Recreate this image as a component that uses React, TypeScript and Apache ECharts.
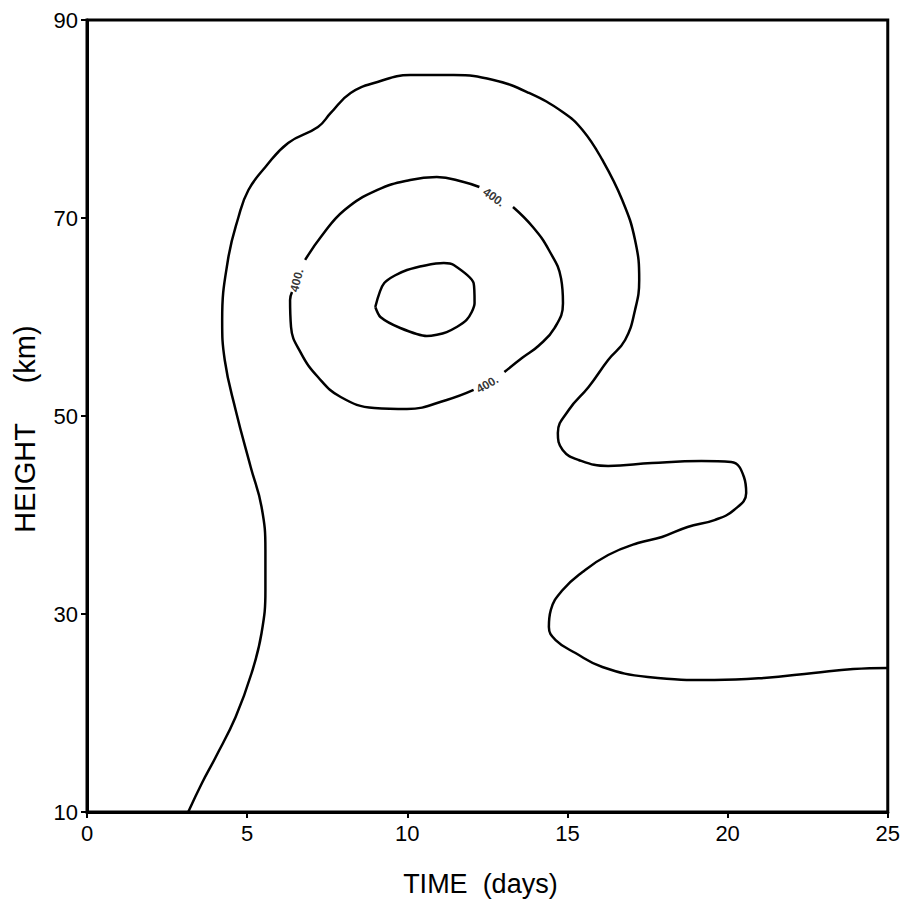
import React, { useEffect, useRef } from "react";
import * as echarts from "echarts";

// Tick labels
const X_TICKS = [0, 5, 10, 15, 20, 25];
const Y_TICKS = [10, 30, 50, 70, 90];

// Contour lines: [time (days), height (km)]
const OUTER: number[][] = [
  [3.16, 10], [3.59, 12.93], [4.02, 15.56], [4.64, 19.6], [5.14, 24.04], [5.45, 28.08],
  [5.57, 32.42], [5.57, 36.46], [5.45, 40.81], [5.11, 44.85], [4.64, 50.61], [4.3, 55.66],
  [4.22, 59.7], [4.4, 65.76], [4.73, 70.1], [5.04, 72.83], [5.57, 75.15], [6.28, 77.58],
  [7.21, 79.19], [7.61, 80.61], [8.23, 82.63], [9.07, 83.74], [10.09, 84.44], [11.45, 84.44],
  [12.69, 83.94], [13.8, 82.63], [14.85, 80.71], [15.47, 78.89], [16.09, 75.86], [16.71, 71.82],
  [17.11, 67.78], [17.24, 63.74], [17.11, 60.71], [16.8, 57.68], [16.27, 55.66], [15.66, 52.93],
  [15.04, 50.61], [14.7, 48.28], [14.85, 46.57], [15.35, 45.56], [16.27, 44.95], [17.64, 45.25],
  [19.18, 45.45], [20.11, 45.35], [20.51, 43.84], [20.58, 42.22], [20.2, 40.51], [19.59, 39.49],
  [18.75, 38.79], [17.95, 37.78], [17.2, 37.17], [16.27, 35.96], [15.47, 34.24], [14.85, 32.42],
  [14.48, 30.4], [14.42, 28.69], [14.63, 27.37], [15.25, 26.06], [16.09, 24.65], [17.51, 23.64],
  [19.59, 23.33], [21.13, 23.54], [22.68, 24.04], [23.92, 24.44], [25, 24.55],
];

const MID_A: number[][] = [
  [6.81, 65.76], [7.3, 68.08], [8.04, 70.81], [9.07, 72.83], [10.09, 73.84], [10.92, 74.14],
  [11.76, 73.64], [12.25, 73.13],
];
const MID_B: number[][] = [
  [13.3, 71.11], [13.92, 69.09], [14.42, 66.77], [14.8, 63.9], [14.86, 61.4], [14.6, 58.9],
  [14.1, 57.1], [13.6, 55.9], [13.03, 54.44],
];
const MID_C: number[][] = [
  [12.07, 52.63], [11.23, 51.62], [9.99, 50.71], [8.97, 50.81], [7.92, 51.92], [7.21, 53.94],
  [6.68, 56.36], [6.37, 58.99], [6.34, 61.72], [6.4, 62.53],
];

const INNER: number[][] = [
  [9.0, 61.01], [9.28, 63.43], [9.99, 64.75], [11.14, 65.45], [11.45, 65.25], [12.07, 63.43],
  [12.1, 61.41], [11.85, 59.7], [11.23, 58.48], [10.61, 58.08], [9.78, 58.89], [9.16, 60.0],
  [9.0, 61.01],
];

// Contour labels: [time, height, rotation]
const LABEL_TEXT = "400.";
const LABELS: number[][] = [
  [12.7, 72.1, -35],
  [12.5, 53.2, 30],
  [6.55, 63.7, 75],
];

const FONT = "Liberation Sans";

export default function App() {
  const ref = useRef<HTMLDivElement>(null);
  useEffect(() => {
    if (!ref.current) return;
    const chart = echarts.init(ref.current, undefined, { renderer: "svg" });
    const lineSeries = (data: number[][], smooth = 0.45) => ({
      type: "line",
      data,
      showSymbol: false,
      symbol: "none",
      smooth,
      lineStyle: { color: "#000", width: 2.5 },
      silent: true,
      z: 3,
    });
    chart.setOption({
      animation: false,
      backgroundColor: "#fff",
      grid: {
        left: 87,
        right: 8,
        top: 20,
        bottom: 97,
        show: true,
        borderColor: "#000",
        borderWidth: 3,
        backgroundColor: "transparent",
      },
      xAxis: {
        type: "value",
        min: 0,
        max: 25,
        name: "TIME  (days)",
        nameLocation: "middle",
        nameGap: 58,
        nameTextStyle: { fontSize: 27, color: "#000", fontFamily: FONT, padding: [0, 14, 0, 0] },
        axisLine: { show: true, lineStyle: { color: "#000", width: 3 } },
        axisTick: { show: true, length: 6, lineStyle: { color: "#000", width: 2 }, customValues: X_TICKS },
        axisLabel: { fontSize: 22, color: "#000", fontFamily: FONT, margin: 10, customValues: X_TICKS },
        splitLine: { show: false },
      },
      yAxis: {
        type: "value",
        min: 10,
        max: 90,
        name: "HEIGHT     (km)",
        nameLocation: "middle",
        nameGap: 48,
        nameTextStyle: { fontSize: 29, color: "#000", fontFamily: FONT, padding: [0, 26, 0, 0] },
        axisLine: { show: true, lineStyle: { color: "#000", width: 3 } },
        axisTick: { show: true, length: 6, lineStyle: { color: "#000", width: 2 }, customValues: Y_TICKS },
        axisLabel: { fontSize: 22, color: "#000", fontFamily: FONT, margin: 9, customValues: Y_TICKS },
        splitLine: { show: false },
      },
      series: [
        lineSeries(OUTER),
        lineSeries(MID_A),
        lineSeries(MID_B),
        lineSeries(MID_C),
        lineSeries(INNER, 0.25),
        {
          type: "scatter",
          symbolSize: 0,
          silent: true,
          itemStyle: { color: "#000" },
          data: LABELS.map((l) => ({
            value: [l[0], l[1]],
            label: { rotate: l[2] },
          })),
          label: {
            show: true,
            position: "inside",
            formatter: LABEL_TEXT,
            fontSize: 12,
            fontWeight: "bold",
            color: "#000",
            textBorderWidth: 0,
            fontFamily: FONT,
          },
          z: 4,
        },
      ],
    });
    return () => chart.dispose();
  }, []);
  return <div ref={ref} style={{ width: 903, height: 909, position: "absolute", left: 0, top: 0 }} />;
}
